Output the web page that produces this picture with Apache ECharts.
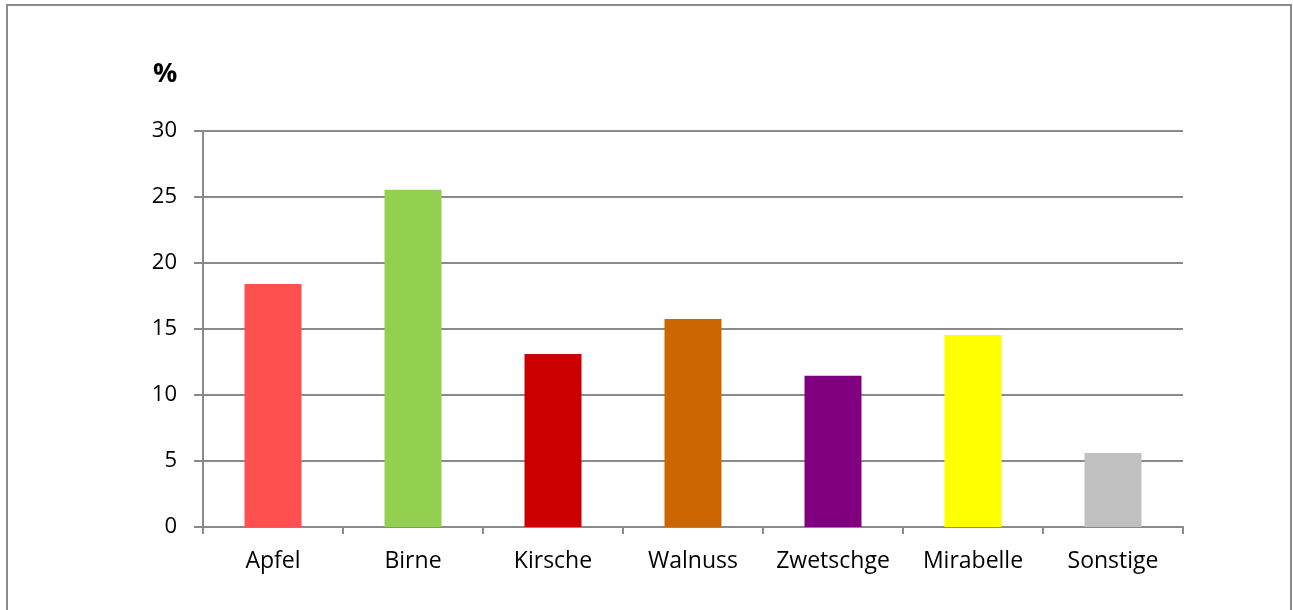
<!DOCTYPE html>
<html>
<head>
<meta charset="utf-8">
<script src="https://cdn.jsdelivr.net/npm/echarts@6/dist/echarts.min.js"></script>
<style>
  html, body { margin: 0; padding: 0; background: #ffffff; }
  #chart { width: 1293px; height: 610px; }
</style>
</head>
<body>
<div id="chart"></div>
<script>
// Fruit species share in percent
const categories = ['Apfel', 'Birne', 'Kirsche', 'Walnuss', 'Zwetschge', 'Mirabelle', 'Sonstige'];
const shares = [18.4, 25.55, 13.1, 15.75, 11.45, 14.55, 5.6];
const barColors = ['#FF5050', '#92D050', '#CC0000', '#CC6600', '#800080', '#FFFF00', '#C0C0C0'];
const yTicks = [0, 5, 10, 15, 20, 25, 30];

const FONT = '"Open Sans", "Noto Sans", sans-serif';
const LINE = '#8a8a8a';

const chart = echarts.init(document.getElementById('chart'), null, { renderer: 'canvas' });

chart.setOption({
  animation: false,
  backgroundColor: '#ffffff',
  title: {
    text: '%',
    left: 148,
    top: 56,
    textStyle: { fontFamily: FONT, fontSize: 27, fontWeight: 'bold', color: '#000000' }
  },
  graphic: [{
    type: 'rect',
    shape: { x: 7, y: 5, width: 1284, height: 610 },
    style: { fill: 'none', stroke: LINE, lineWidth: 2 },
    silent: true
  }],
  grid: { left: 203, right: 110, top: 131, bottom: 83, containLabel: false },
  xAxis: {
    type: 'category',
    data: categories,
    boundaryGap: true,
    axisLine: { show: true, lineStyle: { color: LINE, width: 2 } },
    axisTick: { show: true, interval: 0, alignWithLabel: false, length: 7, lineStyle: { color: LINE, width: 2 } },
    axisLabel: { interval: 0, hideOverlap: false, margin: 23, color: '#000000', fontFamily: FONT, fontSize: 23 }
  },
  yAxis: {
    type: 'value',
    min: yTicks[0],
    max: yTicks[yTicks.length - 1],
    interval: yTicks[1] - yTicks[0],
    axisLine: { show: true, lineStyle: { color: LINE, width: 2 } },
    axisTick: { show: true, length: 9, lineStyle: { color: LINE, width: 2 } },
    axisLabel: { margin: 26, color: '#000000', fontFamily: FONT, fontSize: 22 },
    splitLine: { show: true, lineStyle: { color: LINE, width: 2 } }
  },
  series: [{
    type: 'bar',
    data: shares.map((v, i) => ({ value: v, itemStyle: { color: barColors[i] } })),
    barWidth: 57
  }]
});
</script>
</body>
</html>
